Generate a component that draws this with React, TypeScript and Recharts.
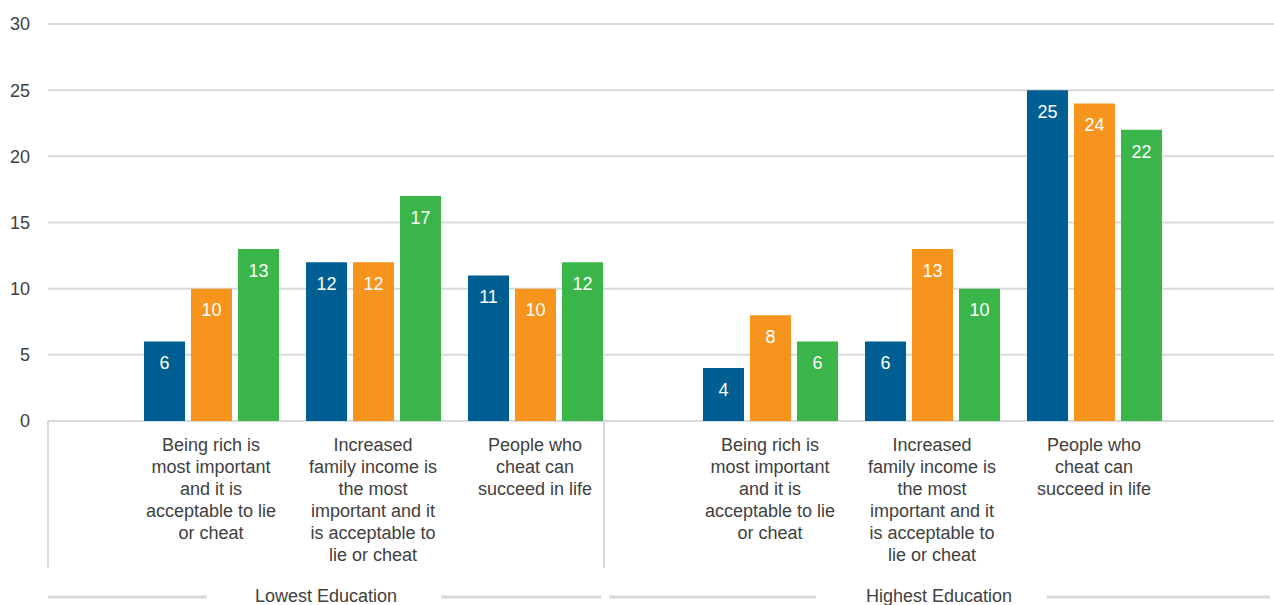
import React from 'react';
import { Bar, BarChart, CartesianGrid, LabelList, XAxis, YAxis } from 'recharts';

// category labels (explicit line breaks as in the original)
const CATEGORIES = [
    'Being rich is\nmost important\nand it is\nacceptable to lie\nor cheat',
    'Increased\nfamily income is\nthe most\nimportant and it\nis acceptable to\nlie or cheat',
    'People who\ncheat can\nsucceed in life',
];
const GROUPS = ['Lowest Education', 'Highest Education'];

const LOW_BLUE = [6, 12, 11];
const LOW_ORANGE = [10, 12, 10];
const LOW_GREEN = [13, 17, 12];
const HIGH_BLUE = [4, 6, 25];
const HIGH_ORANGE = [8, 13, 24];
const HIGH_GREEN = [6, 10, 22];

const Y_TICKS = [0, 5, 10, 15, 20, 25, 30];

const BLUE = '#005f92';
const ORANGE = '#f7941e';
const GREEN = '#39b54a';
const GRID = '#d9d9d9';
const TEXT = '#404040';
const FONT = '"Liberation Sans", Arial, sans-serif';

const data = CATEGORIES.map((name, i) => ({
    name,
    lowBlue: LOW_BLUE[i],
    lowOrange: LOW_ORANGE[i],
    lowGreen: LOW_GREEN[i],
    highBlue: HIGH_BLUE[i],
    highOrange: HIGH_ORANGE[i],
    highGreen: HIGH_GREEN[i],
}));

function CategoryTick({ x, y, payload }: any) {
    const lines = String(payload.value).split('\n');
    return (
        <text x={x} y={y + 30} textAnchor="middle" fill={TEXT} fontSize={18} fontFamily={FONT}>
            {lines.map((l, i) => (
                <tspan key={i} x={x} dy={i === 0 ? 0 : 22}>
                    {l}
                </tspan>
            ))}
        </text>
    );
}

const barLabel = { position: 'insideTop' as const, offset: 15, fill: '#fff', fontSize: 18, fontFamily: FONT };

export default function App() {
    return (
        <div style={{ position: 'absolute', left: 0, top: 0, width: 1274, height: 605, background: '#fff', fontFamily: FONT }}>
            <BarChart width={1274} height={605} data={data} margin={{ top: 24, right: 0, bottom: 0, left: 0 }} barGap={6}>
                <CartesianGrid xAxisId="low" vertical={false} stroke={GRID} strokeWidth={2} />
                <XAxis
                    xAxisId="high"
                    dataKey="name"
                    height={1}
                    padding={{ left: 641, right: 99 }}
                    axisLine={false}
                    tickLine={false}
                    tickSize={0}
                    tickMargin={0}
                    interval={0}
                    tick={<CategoryTick />}
                />
                <XAxis
                    xAxisId="low"
                    dataKey="name"
                    height={183}
                    padding={{ left: 82, right: 658 }}
                    axisLine={false}
                    tickLine={false}
                    tickSize={0}
                    tickMargin={-1}
                    interval={0}
                    tick={<CategoryTick />}
                />
                <YAxis
                    domain={[0, 30]}
                    ticks={Y_TICKS}
                    width={48}
                    axisLine={false}
                    tickLine={false}
                    tickSize={0}
                    tickMargin={18}
                    tick={{ fill: TEXT, fontSize: 18, fontFamily: FONT }}
                />
                <Bar xAxisId="low" dataKey="lowBlue" fill={BLUE} barSize={41} isAnimationActive={false}>
                    <LabelList dataKey="lowBlue" {...barLabel} />
                </Bar>
                <Bar xAxisId="low" dataKey="lowOrange" fill={ORANGE} barSize={41} isAnimationActive={false}>
                    <LabelList dataKey="lowOrange" {...barLabel} />
                </Bar>
                <Bar xAxisId="low" dataKey="lowGreen" fill={GREEN} barSize={41} isAnimationActive={false}>
                    <LabelList dataKey="lowGreen" {...barLabel} />
                </Bar>
                <Bar xAxisId="high" dataKey="highBlue" fill={BLUE} barSize={41} isAnimationActive={false}>
                    <LabelList dataKey="highBlue" {...barLabel} />
                </Bar>
                <Bar xAxisId="high" dataKey="highOrange" fill={ORANGE} barSize={41} isAnimationActive={false}>
                    <LabelList dataKey="highOrange" {...barLabel} />
                </Bar>
                <Bar xAxisId="high" dataKey="highGreen" fill={GREEN} barSize={41} isAnimationActive={false}>
                    <LabelList dataKey="highGreen" {...barLabel} />
                </Bar>
            </BarChart>
            {/* group boxes and group labels under the category axis */}
            <svg width={1274} height={605} style={{ position: 'absolute', left: 0, top: 0, pointerEvents: 'none' }}>
                <line x1={48} y1={421} x2={48} y2={568} stroke={GRID} strokeWidth={2} />
                <line x1={604} y1={421} x2={604} y2={568} stroke={GRID} strokeWidth={2} />
                <line x1={48} y1={597} x2={207} y2={597} stroke={GRID} strokeWidth={3} />
                <line x1={441} y1={597} x2={601} y2={597} stroke={GRID} strokeWidth={3} />
                <line x1={609} y1={597} x2={816} y2={597} stroke={GRID} strokeWidth={3} />
                <line x1={1047} y1={597} x2={1270} y2={597} stroke={GRID} strokeWidth={3} />
                <text x={326} y={602} textAnchor="middle" fill={TEXT} fontSize={18} fontFamily={FONT}>
                    {GROUPS[0]}
                </text>
                <text x={939} y={602} textAnchor="middle" fill={TEXT} fontSize={18} fontFamily={FONT}>
                    {GROUPS[1]}
                </text>
            </svg>
        </div>
    );
}
